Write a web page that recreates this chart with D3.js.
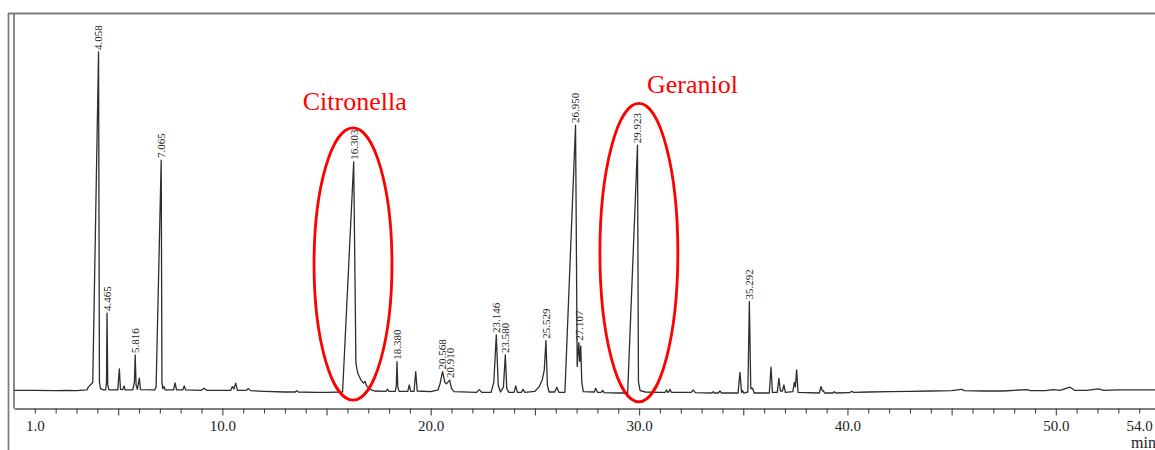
<!DOCTYPE html>
<html>
<head>
<meta charset="utf-8">
<script src="https://cdn.jsdelivr.net/npm/d3@7"></script>
<style>
  html, body { margin: 0; padding: 0; background: #fff; }
  svg { display: block; }
</style>
</head>
<body>
<script>
// Retention time (min) vs detector response (relative units)
const trace = [
  [0.0,0.5],[1.0,0.5],[2.0,0.4],[2.5,0.5],[3.0,0.4],[3.5,0.6],[3.57,1.5],[3.78,2.8],[4.058,100],[4.10,3.0],[4.15,1.0],[4.30,0.6],
  [4.40,0.6],[4.44,3.0],[4.465,23.2],[4.50,2.0],[4.56,0.6],
  [4.98,0.6],[5.055,6.8],[5.11,0.8],[5.22,0.7],[5.28,1.8],[5.34,0.6],
  [5.70,0.6],[5.78,3.0],[5.816,10.9],[5.86,2.0],[5.92,0.8],[6.014,4.1],[6.07,0.7],
  [6.75,0.6],[6.82,1.5],[7.065,68.2],[7.10,3.0],[7.14,1.0],[7.20,1.6],[7.26,0.6],
  [7.66,0.6],[7.73,2.7],[7.80,0.6],[8.10,0.6],[8.17,1.8],[8.24,0.6],[9.00,0.5],[9.12,1.1],[9.25,0.5],
  [10.40,0.5],[10.48,1.6],[10.55,0.9],[10.64,2.6],[10.72,0.5],[11.15,0.5],[11.25,1.0],[11.35,0.4],
  [12.0,0.2],[13.0,0.0],[13.5,0.0],[13.57,0.4],[13.65,0.0],[14.5,-0.1],[15.0,-0.1],
  [15.77,0.0],[16.303,67.7],[16.41,8.4],[16.5,5.5],[16.65,3.5],[16.77,2.6],[16.85,3.1],[16.92,1.8],[17.1,0.8],[17.3,0.3],
  [17.85,0.2],[17.93,0.8],[18.0,0.2],[18.30,0.2],[18.35,2.0],[18.380,8.9],[18.42,1.5],[18.48,0.2],
  [18.90,0.2],[18.97,2.1],[19.04,0.2],[19.20,0.2],[19.28,6.0],[19.35,0.3],
  [20.0,0.1],[20.35,0.6],[20.45,2.5],[20.568,6.0],[20.68,2.8],[20.75,2.4],[20.910,3.5],[21.0,1.0],[21.12,0.1],
  [22.2,-0.1],[22.33,0.7],[22.45,-0.1],
  [22.90,-0.1],[23.03,3.0],[23.146,16.8],[23.24,2.0],[23.35,0.0],[23.49,1.5],[23.580,10.9],[23.65,1.0],[23.75,-0.1],
  [24.0,-0.1],[24.08,1.8],[24.16,-0.1],[24.35,-0.1],[24.43,0.8],[24.52,-0.1],
  [25.0,0.2],[25.2,1.5],[25.35,3.5],[25.45,6.5],[25.529,15.1],[25.60,2.0],[25.68,0.0],[25.95,0.0],[26.05,1.4],[26.15,-0.1],
  [26.44,-0.1],[26.950,78.5],[27.03,7.5],[27.107,14.5],[27.15,9.0],[27.20,13.5],[27.25,3.0],[27.32,0.1],
  [27.85,0.0],[27.92,1.1],[28.0,-0.1],[28.18,-0.1],[28.25,0.5],[28.32,-0.2],
  [29.0,-0.3],[29.45,-0.3],[29.923,72.6],[29.97,3.0],[30.05,0.4],[30.3,0.0],
  [31.0,-0.1],[31.25,-0.1],[31.32,0.6],[31.38,-0.1],[31.44,0.1],[31.48,0.8],[31.55,-0.1],
  [32.5,-0.1],[32.6,0.6],[32.7,-0.2],[33.5,-0.3],[33.56,0.1],[33.62,-0.3],[33.80,-0.3],[33.88,0.3],[33.96,-0.3],
  [34.75,-0.3],[34.84,5.8],[34.92,-0.1],[34.97,0.4],[35.02,-0.3],[35.22,0.0],[35.292,26.6],[35.36,1.0],[35.45,1.1],[35.52,-0.3],
  [36.25,-0.3],[36.33,7.3],[36.40,-0.1],[36.63,-0.1],[36.71,4.0],[36.78,0.3],[36.88,0.3],[36.95,2.1],[37.02,-0.1],
  [37.38,0.1],[37.45,2.8],[37.50,1.5],[37.56,6.5],[37.63,-0.1],
  [38.65,-0.3],[38.73,1.6],[38.80,0.3],[38.84,0.4],[38.90,-0.3],[39.3,-0.3],[39.37,0.1],[39.45,-0.3],
  [40.1,-0.2],[40.2,0.2],[40.3,-0.1],[41,0.0],[42,0.1],[43,0.2],[44,0.3],[45,0.4],[45.48,0.8],[45.6,0.4],
  [46.5,0.3],[47.5,0.3],[48.6,0.7],[48.8,0.4],[49.5,0.4],[49.87,0.7],[50.2,0.5],[50.68,1.4],[50.9,0.5],
  [51.5,0.5],[52.04,0.9],[52.3,0.5],[53,0.6],[54,0.6],[54.76,0.6]
];

// Labelled peaks (retention times as printed)
const peakLabels = ["4.058","4.465","5.816","7.065","16.303","18.380","20.568","20.910",
                    "23.146","23.580","25.529","26.950","27.107","29.923","35.292"];

// Axis ticks
const minorTicks = d3.range(1, 55);
const labelledTicks = [1, 10, 20, 30, 40, 50, 54];

// Highlighted compounds
const compoundNames = ["Citronella", "Geraniol"];

const W = 1155, H = 450;
const serif = "'Liberation Serif', 'Times New Roman', serif";
const svg = d3.select("body").append("svg").attr("width", W).attr("height", H);
svg.append("rect").attr("width", W).attr("height", H).attr("fill", "#fff");

const x = d3.scaleLinear().domain([0, 54.76]).range([14, 1155]);
const y = d3.scaleLinear().domain([0, 100]).range([392, 52]);

// frame
const frameColor = "#7d7d7d";
svg.append("line").attr("x1", 8.5).attr("y1", 13).attr("x2", 8.5).attr("y2", H)
  .attr("stroke", frameColor).attr("stroke-width", 1.8);
svg.append("line").attr("x1", 8).attr("y1", 13.5).attr("x2", W).attr("y2", 13.5)
  .attr("stroke", frameColor).attr("stroke-width", 1.8);
svg.append("line").attr("x1", 14).attr("y1", 13).attr("x2", 14).attr("y2", 408.5)
  .attr("stroke", frameColor).attr("stroke-width", 1.8);

// x axis
const fmt = d3.format(".1f");
const axis = d3.axisBottom(x)
  .tickValues(minorTicks)
  .tickSize(5)
  .tickSizeOuter(0)
  .tickFormat(d => labelledTicks.includes(d) ? fmt(d) : "");
const gx = svg.append("g").attr("transform", "translate(0,408.5)").attr("color", "#444").call(axis);
gx.select(".domain").attr("stroke", "#555").attr("stroke-width", 1.6);
gx.selectAll(".tick line").attr("stroke-width", 1.1)
  .attr("y2", d => d % 5 === 0 ? 7 : 5);
gx.selectAll(".tick text")
  .attr("y", 12)
  .attr("font-family", serif)
  .attr("font-size", 15)
  .attr("fill", "#222");
svg.append("text").attr("x", 1131).attr("y", 448)
  .attr("font-family", serif)
  .attr("font-size", 16).attr("fill", "#222").text("min");

// trace
const line = d3.line().x(d => x(d[0])).y(d => y(d[1]));
svg.append("path").datum(trace)
  .attr("d", line)
  .attr("fill", "none")
  .attr("stroke", "#2e2e2e")
  .attr("stroke-width", 1.3)
  .attr("stroke-linejoin", "round");

// peak labels
const valueAt = t => trace.find(d => d[0] === t)[1];
svg.append("g").selectAll("text").data(peakLabels).join("text")
  .attr("transform", s => `translate(${x(+s)},${y(valueAt(+s)) - 2}) rotate(-90)`)
  .attr("dy", "0.35em")
  .attr("text-anchor", "start")
  .attr("font-family", serif)
  .attr("font-size", 11)
  .attr("fill", "#222")
  .text(s => s);

// highlighted compounds (ellipse centre/extent in data units, label anchor in data units)
const ellipseSpec = [
  { cx: 16.27, top: 77.7, bottom: -2.4, halfWidth: 1.87, tx: 13.86, ty: 82.9 },
  { cx: 29.99, top: 84.9, bottom: -2.9, halfWidth: 1.87, tx: 30.38, ty: 87.9 }
];
compoundNames.forEach((name, i) => {
  const e = ellipseSpec[i];
  svg.append("ellipse")
    .attr("cx", x(e.cx))
    .attr("cy", (y(e.top) + y(e.bottom)) / 2)
    .attr("rx", x(e.cx + e.halfWidth) - x(e.cx))
    .attr("ry", (y(e.bottom) - y(e.top)) / 2)
    .attr("fill", "none")
    .attr("stroke", "#ff0000")
    .attr("stroke-width", 2.8);
  svg.append("text")
    .attr("x", x(e.tx)).attr("y", y(e.ty))
    .attr("font-family", serif)
    .attr("font-size", 26)
    .attr("fill", "#ff0000")
    .text(name);
});
</script>
</body>
</html>
